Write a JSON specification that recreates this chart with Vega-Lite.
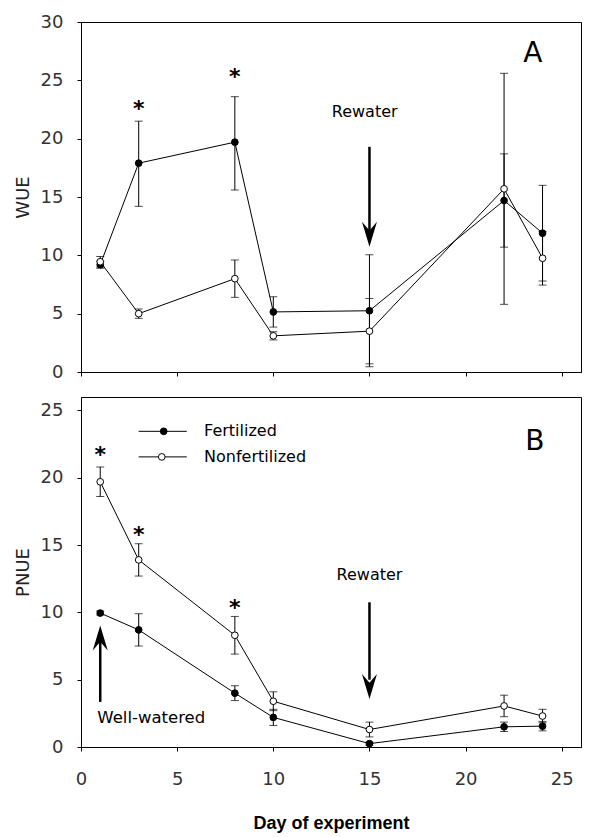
{
 "$schema": "https://vega.github.io/schema/vega-lite/v6.json",
 "padding": {"left": 13, "top": 12, "right": 10, "bottom": 5},
 "background": "white",
 "bounds": "flush",
 "spacing": 25,
 "config": {
  "view": {"stroke": "black", "strokeWidth": 1},
  "axis": {"grid": false, "domainColor": "black", "tickColor": "black", "tickSize": 4, "labelFont": "DejaVu Sans", "labelFontSize": 18, "labelColor": "#333", "labelFlush": false, "labelOverlap": false, "titleFont": "DejaVu Sans", "titleFontWeight": "normal", "titleFontSize": 18, "titleColor": "#222"},
  "axisY": {"labelPadding": 14, "titlePadding": 8},
  "axisX": {"labelPadding": 19, "titlePadding": 26}
 },
 "datasets": {
  "A": [
   {"day": 1, "trt": "Fertilized", "v": 9.2, "lo": 8.9, "hi": 9.5},
   {"day": 3, "trt": "Fertilized", "v": 17.9, "lo": 14.2, "hi": 21.5},
   {"day": 8, "trt": "Fertilized", "v": 19.7, "lo": 15.6, "hi": 23.6},
   {"day": 10, "trt": "Fertilized", "v": 5.15, "lo": 3.85, "hi": 6.45},
   {"day": 15, "trt": "Fertilized", "v": 5.25, "lo": 0.45, "hi": 10.05},
   {"day": 22, "trt": "Fertilized", "v": 14.7, "lo": 10.7, "hi": 18.7},
   {"day": 24, "trt": "Fertilized", "v": 11.9, "lo": 7.8, "hi": 16.0},
   {"day": 1, "trt": "Nonfertilized", "v": 9.45, "lo": 9.0, "hi": 9.9},
   {"day": 3, "trt": "Nonfertilized", "v": 5.0, "lo": 4.6, "hi": 5.4},
   {"day": 8, "trt": "Nonfertilized", "v": 8.0, "lo": 6.4, "hi": 9.6},
   {"day": 10, "trt": "Nonfertilized", "v": 3.1, "lo": 2.75, "hi": 3.45},
   {"day": 15, "trt": "Nonfertilized", "v": 3.5, "lo": 0.7, "hi": 6.3},
   {"day": 22, "trt": "Nonfertilized", "v": 15.7, "lo": 5.8, "hi": 25.6},
   {"day": 24, "trt": "Nonfertilized", "v": 9.75, "lo": 7.45, "hi": 12.05}
  ],
  "B": [
   {"day": 1, "trt": "Fertilized", "v": 9.95, "lo": 9.8, "hi": 10.1},
   {"day": 3, "trt": "Fertilized", "v": 8.7, "lo": 7.5, "hi": 9.9},
   {"day": 8, "trt": "Fertilized", "v": 4.0, "lo": 3.45, "hi": 4.55},
   {"day": 10, "trt": "Fertilized", "v": 2.2, "lo": 1.6, "hi": 2.8},
   {"day": 15, "trt": "Fertilized", "v": 0.25, "lo": 0.15, "hi": 0.35},
   {"day": 22, "trt": "Fertilized", "v": 1.5, "lo": 1.15, "hi": 1.85},
   {"day": 24, "trt": "Fertilized", "v": 1.55, "lo": 1.2, "hi": 1.9},
   {"day": 1, "trt": "Nonfertilized", "v": 19.7, "lo": 18.6, "hi": 20.8},
   {"day": 3, "trt": "Nonfertilized", "v": 13.9, "lo": 12.7, "hi": 15.1},
   {"day": 8, "trt": "Nonfertilized", "v": 8.3, "lo": 6.9, "hi": 9.7},
   {"day": 10, "trt": "Nonfertilized", "v": 3.4, "lo": 2.7, "hi": 4.1},
   {"day": 15, "trt": "Nonfertilized", "v": 1.3, "lo": 0.75, "hi": 1.85},
   {"day": 22, "trt": "Nonfertilized", "v": 3.05, "lo": 2.25, "hi": 3.85},
   {"day": 24, "trt": "Nonfertilized", "v": 2.3, "lo": 1.8, "hi": 2.8}
  ],
  "starsA": [{"day": 3, "v": 23.0}, {"day": 8, "v": 25.7}],
  "starsB": [{"day": 1, "v": 22.1}, {"day": 3, "v": 16.1}, {"day": 8, "v": 10.7}],
  "textA": [
   {"day": 14.75, "v": 22.3, "label": "Rewater", "size": "s"},
   {"day": 23.5, "v": 27.3, "label": "A", "size": "l"}
  ],
  "textB": [
   {"day": 15, "v": 12.75, "label": "Rewater", "size": "s"},
   {"day": 23.6, "v": 22.65, "label": "B", "size": "l"}
  ],
  "wellB": [{"day": 0.85, "v": 2.15, "label": "Well-watered"}],
  "shaftA": [{"day": 15, "v": 19.3, "v2": 12.0}],
  "headA": [{"day": 15, "v": 11.8}],
  "shaftB": [{"day": 15, "v": 10.75, "v2": 5.0}, {"day": 1, "v": 3.35, "v2": 8.0}],
  "headDownB": [{"day": 15, "v": 4.5}],
  "headUpB": [{"day": 1, "v": 8.1}],
  "legend": [
   {"trt": "Fertilized", "x1": 3.0, "x2": 5.5, "px": 4.3, "tx": 6.4, "v": 23.45},
   {"trt": "Nonfertilized", "x1": 3.0, "x2": 5.5, "px": 4.2, "tx": 6.4, "v": 21.55}
  ]
 },
 "vconcat": [
  {
   "width": 500, "height": 350,
   "layer": [
    {"data": {"name": "A"}, "mark": {"type": "rule", "color": "black", "strokeWidth": 1},
     "encoding": {
      "x": {"field": "day", "type": "quantitative", "scale": {"domain": [0, 25]}, "axis": {"values": [0, 5, 10, 15, 20, 25], "labels": false, "title": null}},
      "y": {"field": "lo", "type": "quantitative", "scale": {"domain": [0, 30]}, "axis": {"values": [0, 5, 10, 15, 20, 25, 30], "title": "WUE"}},
      "y2": {"field": "hi"}}},
    {"data": {"name": "A"}, "mark": {"type": "tick", "orient": "horizontal", "size": 8, "thickness": 1, "color": "black"},
     "encoding": {"x": {"field": "day", "type": "quantitative"}, "y": {"field": "lo", "type": "quantitative"}}},
    {"data": {"name": "A"}, "mark": {"type": "tick", "orient": "horizontal", "size": 8, "thickness": 1, "color": "black"},
     "encoding": {"x": {"field": "day", "type": "quantitative"}, "y": {"field": "hi", "type": "quantitative"}}},
    {"data": {"name": "A"}, "mark": {"type": "line", "color": "black", "strokeWidth": 1},
     "encoding": {"x": {"field": "day", "type": "quantitative"}, "y": {"field": "v", "type": "quantitative"}, "detail": {"field": "trt"}}},
    {"data": {"name": "A"}, "mark": {"type": "circle", "size": 45, "stroke": "black", "strokeWidth": 1, "opacity": 1},
     "encoding": {"x": {"field": "day", "type": "quantitative"}, "y": {"field": "v", "type": "quantitative"},
      "fill": {"field": "trt", "type": "nominal", "scale": {"domain": ["Fertilized", "Nonfertilized"], "range": ["black", "white"]}, "legend": null}}},
    {"data": {"name": "starsA"}, "mark": {"type": "text", "text": "*", "font": "DejaVu Sans", "fontSize": 22, "fontWeight": "bold", "baseline": "middle", "dy": 5},
     "encoding": {"x": {"field": "day", "type": "quantitative"}, "y": {"field": "v", "type": "quantitative"}}},
    {"data": {"name": "textA"}, "mark": {"type": "text", "font": "DejaVu Sans", "baseline": "middle", "color": "black"},
     "encoding": {"x": {"field": "day", "type": "quantitative"}, "y": {"field": "v", "type": "quantitative"}, "text": {"field": "label"},
      "size": {"field": "size", "type": "nominal", "scale": {"domain": ["s", "l"], "range": [16, 28]}, "legend": null}}},
    {"data": {"name": "shaftA"}, "mark": {"type": "rule", "color": "black", "strokeWidth": 2.5},
     "encoding": {"x": {"field": "day", "type": "quantitative"}, "y": {"field": "v", "type": "quantitative"}, "y2": {"field": "v2"}}},
    {"data": {"name": "headA"}, "mark": {"type": "point", "shape": "M-0.6,-1L0,1L0.6,-1L0,-0.3Z", "size": 625, "filled": true, "color": "black", "opacity": 1},
     "encoding": {"x": {"field": "day", "type": "quantitative"}, "y": {"field": "v", "type": "quantitative"}}}
   ]
  },
  {
   "width": 500, "height": 350,
   "layer": [
    {"data": {"name": "B"}, "mark": {"type": "rule", "color": "black", "strokeWidth": 1},
     "encoding": {
      "x": {"field": "day", "type": "quantitative", "scale": {"domain": [0, 25]}, "axis": {"values": [0, 5, 10, 15, 20, 25], "title": "Day of experiment", "titleFont": "Liberation Sans", "titleFontWeight": "bold", "titleFontSize": 18, "titleColor": "black"}},
      "y": {"field": "lo", "type": "quantitative", "scale": {"domain": [0, 25]}, "axis": {"values": [0, 5, 10, 15, 20, 25], "title": "PNUE"}},
      "y2": {"field": "hi"}}},
    {"data": {"name": "B"}, "mark": {"type": "tick", "orient": "horizontal", "size": 8, "thickness": 1, "color": "black"},
     "encoding": {"x": {"field": "day", "type": "quantitative"}, "y": {"field": "lo", "type": "quantitative"}}},
    {"data": {"name": "B"}, "mark": {"type": "tick", "orient": "horizontal", "size": 8, "thickness": 1, "color": "black"},
     "encoding": {"x": {"field": "day", "type": "quantitative"}, "y": {"field": "hi", "type": "quantitative"}}},
    {"data": {"name": "B"}, "mark": {"type": "line", "color": "black", "strokeWidth": 1},
     "encoding": {"x": {"field": "day", "type": "quantitative"}, "y": {"field": "v", "type": "quantitative"}, "detail": {"field": "trt"}}},
    {"data": {"name": "B"}, "mark": {"type": "circle", "size": 45, "stroke": "black", "strokeWidth": 1, "opacity": 1},
     "encoding": {"x": {"field": "day", "type": "quantitative"}, "y": {"field": "v", "type": "quantitative"},
      "fill": {"field": "trt", "type": "nominal", "scale": {"domain": ["Fertilized", "Nonfertilized"], "range": ["black", "white"]}, "legend": null}}},
    {"data": {"name": "starsB"}, "mark": {"type": "text", "text": "*", "font": "DejaVu Sans", "fontSize": 22, "fontWeight": "bold", "baseline": "middle", "dy": 5},
     "encoding": {"x": {"field": "day", "type": "quantitative"}, "y": {"field": "v", "type": "quantitative"}}},
    {"data": {"name": "textB"}, "mark": {"type": "text", "font": "DejaVu Sans", "baseline": "middle", "color": "black"},
     "encoding": {"x": {"field": "day", "type": "quantitative"}, "y": {"field": "v", "type": "quantitative"}, "text": {"field": "label"},
      "size": {"field": "size", "type": "nominal", "scale": {"domain": ["s", "l"], "range": [16, 28]}, "legend": null}}},
    {"data": {"name": "wellB"}, "mark": {"type": "text", "font": "DejaVu Sans", "fontSize": 16.5, "baseline": "middle", "align": "left", "color": "black"},
     "encoding": {"x": {"field": "day", "type": "quantitative"}, "y": {"field": "v", "type": "quantitative"}, "text": {"field": "label"}}},
    {"data": {"name": "shaftB"}, "mark": {"type": "rule", "color": "black", "strokeWidth": 2.5},
     "encoding": {"x": {"field": "day", "type": "quantitative"}, "y": {"field": "v", "type": "quantitative"}, "y2": {"field": "v2"}}},
    {"data": {"name": "headDownB"}, "mark": {"type": "point", "shape": "M-0.6,-1L0,1L0.6,-1L0,-0.3Z", "size": 625, "filled": true, "color": "black", "opacity": 1},
     "encoding": {"x": {"field": "day", "type": "quantitative"}, "y": {"field": "v", "type": "quantitative"}}},
    {"data": {"name": "headUpB"}, "mark": {"type": "point", "shape": "M-0.6,1L0,-1L0.6,1L0,0.3Z", "size": 625, "filled": true, "color": "black", "opacity": 1},
     "encoding": {"x": {"field": "day", "type": "quantitative"}, "y": {"field": "v", "type": "quantitative"}}},
    {"data": {"name": "legend"}, "mark": {"type": "rule", "color": "black", "strokeWidth": 1},
     "encoding": {"x": {"field": "x1", "type": "quantitative"}, "x2": {"field": "x2"}, "y": {"field": "v", "type": "quantitative"}}},
    {"data": {"name": "legend"}, "mark": {"type": "circle", "size": 45, "stroke": "black", "strokeWidth": 1, "opacity": 1},
     "encoding": {"x": {"field": "px", "type": "quantitative"}, "y": {"field": "v", "type": "quantitative"},
      "fill": {"field": "trt", "type": "nominal", "scale": {"domain": ["Fertilized", "Nonfertilized"], "range": ["black", "white"]}, "legend": null}}},
    {"data": {"name": "legend"}, "mark": {"type": "text", "font": "DejaVu Sans", "fontSize": 16, "baseline": "middle", "align": "left", "color": "black"},
     "encoding": {"x": {"field": "tx", "type": "quantitative"}, "y": {"field": "v", "type": "quantitative"}, "text": {"field": "trt"}}}
   ]
  }
 ]
}
